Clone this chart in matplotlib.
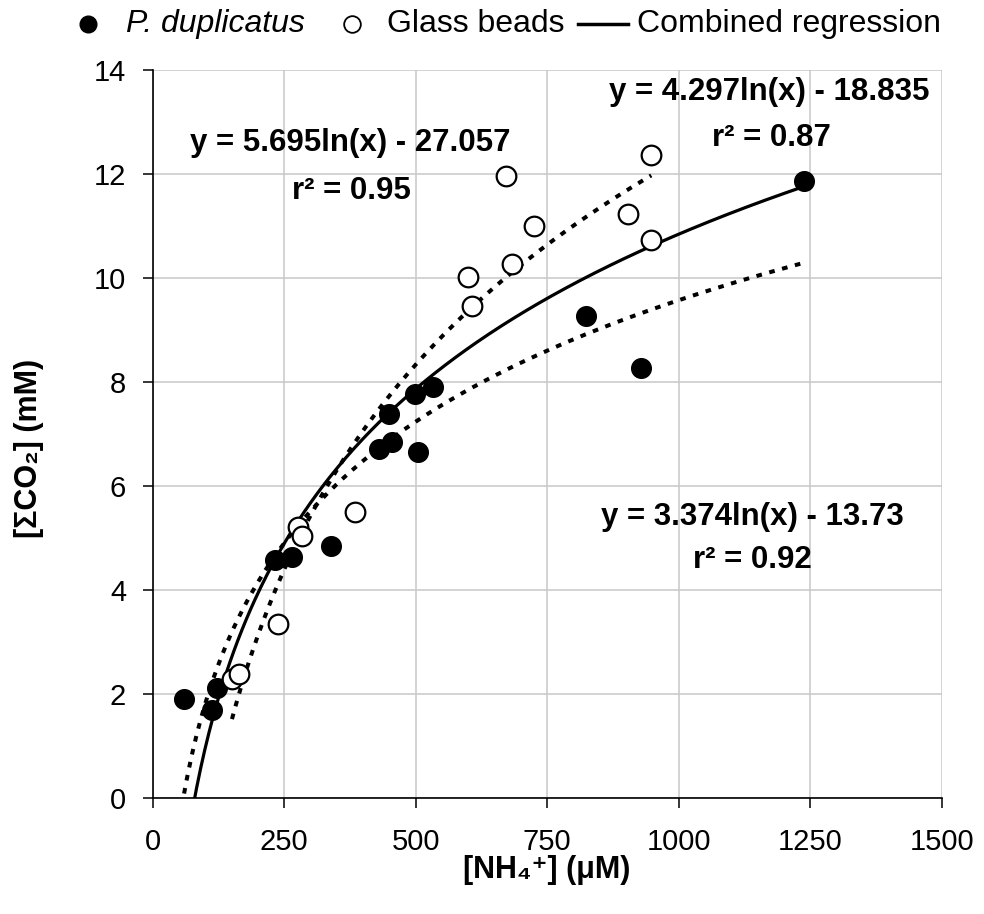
import matplotlib
matplotlib.use("Agg")
import matplotlib.pyplot as plt
from matplotlib.lines import Line2D
import numpy as np

plt.rcParams['font.family'] = ['Liberation Sans', 'DejaVu Sans']

# P. duplicatus (filled circles)
pd_x = [60, 114, 122, 233, 266, 339, 430, 456, 505, 449, 498, 533, 824, 928, 1239]
pd_y = [1.90, 1.69, 2.11, 4.58, 4.64, 4.84, 6.71, 6.84, 6.66, 7.38, 7.78, 7.90, 9.27, 8.27, 11.88]

# Glass beads (open circles)
gb_x = [151, 164, 239, 276, 285, 384, 600, 608, 672, 684, 726, 904, 947, 948]
gb_y = [2.28, 2.38, 3.35, 5.21, 5.04, 5.50, 10.03, 9.46, 11.96, 10.27, 11.00, 11.23, 12.38, 10.73]

# log fits y = a ln(x) + b, as printed on the chart
fit_pd = (3.374, -13.73)
fit_gb = (5.695, -27.057)
fit_all = (4.297, -18.835)

fig = plt.figure(figsize=(9.84, 9.14), dpi=100)
ax = fig.add_axes([0.155, 0.127, 0.802, 0.796])

def log_curve(fit, xs):
    x = np.linspace(min(xs), max(xs), 300)
    return x, fit[0] * np.log(x) + fit[1]

dot = (0, (1.4, 1.9))
x, y = log_curve(fit_gb, gb_x)
ax.plot(x, y, color='black', lw=2.9, linestyle=dot, zorder=3)
x, y = log_curve(fit_pd, pd_x)
ax.plot(x, y, color='black', lw=2.9, linestyle=dot, zorder=3)
x, y = log_curve(fit_all, pd_x + gb_x)
ax.plot(x, y, color='black', lw=2.3, zorder=3)

ax.scatter(pd_x, pd_y, s=200, color='black', zorder=4)
ax.scatter(gb_x, gb_y, s=200, facecolor='white', edgecolor='black', linewidth=1.6, zorder=4)

ax.set_xlim(0, 1500)
ax.set_ylim(0, 14)
ax.set_xticks(np.arange(0, 1501, 250))
ax.set_yticks(np.arange(0, 15, 2))
ax.grid(True, color='#c8c8c8', lw=1.1)
ax.set_axisbelow(True)
for s in ['top', 'right']:
    ax.spines[s].set_visible(False)
ax.spines['left'].set_linewidth(1.2)
ax.spines['bottom'].set_linewidth(1.2)
ax.tick_params(axis='x', direction='out', length=7, width=1.1, pad=15, labelsize=21)
ax.tick_params(axis='y', direction='out', length=7, width=1.1, pad=12, labelsize=21)

fig.text(0.556, 0.048, '[NH\u2084\u207a] (\u03bcM)', fontsize=22, fontweight='bold',
         ha='center', va='center')
fig.text(0.029, 0.509, '[\u03a3CO\u2082] (mM)', fontsize=22, fontweight='bold',
         ha='center', va='center', rotation=90)

eq_kw = dict(fontsize=22.5, fontweight='bold', ha='center', va='center')
ax.text(375, 12.6, 'y = 5.695ln(x) - 27.057', **eq_kw)
ax.text(378, 11.67, 'r\u00b2 = 0.95', **eq_kw)
ax.text(1173, 13.58, 'y = 4.297ln(x) - 18.835', **eq_kw)
ax.text(1176, 12.7, 'r\u00b2 = 0.87', **eq_kw)
ax.text(1141, 5.41, 'y = 3.374ln(x) - 13.73', **eq_kw)
ax.text(1141, 4.57, 'r\u00b2 = 0.92', **eq_kw)

# legend row across the top, laid out by hand
ly = 0.974
fig.add_artist(Line2D([0.0894], [ly], marker='o', ls='none', color='black', markersize=12))
fig.text(0.128, ly, 'P. duplicatus', fontsize=23, fontstyle='italic', va='center')
fig.add_artist(Line2D([0.358], [ly], marker='o', ls='none', markerfacecolor='white',
                      markeredgecolor='black', markeredgewidth=1.3, markersize=12))
fig.text(0.393, ly, 'Glass beads', fontsize=23, va='center')
fig.add_artist(Line2D([0.587, 0.638], [ly, ly], color='black', lw=2.5))
fig.text(0.647, ly, 'Combined regression', fontsize=23, va='center')

fig.savefig('out.png', dpi=100)
